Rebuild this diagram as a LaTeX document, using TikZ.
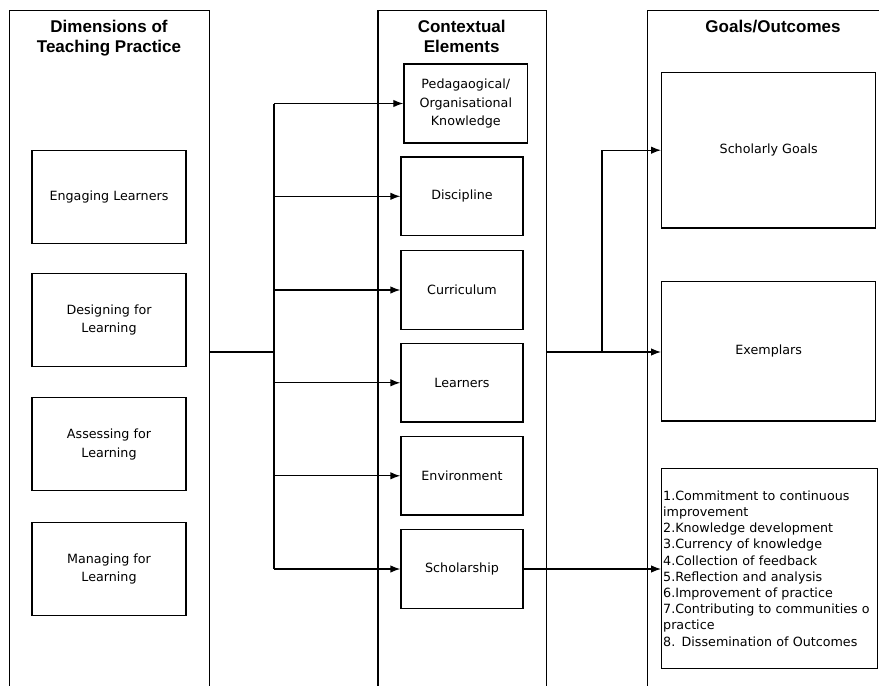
\documentclass[tikz,border=0pt]{standalone}
\usepackage{fontspec}
\setmainfont{DejaVu Sans}
\newfontfamily\headfont{Liberation Sans}
\usetikzlibrary{arrows.meta}

\begin{document}
\begin{tikzpicture}[x=1pt,y=-1pt,line width=1.3pt,
    every node/.style={font=\fontsize{12.7}{18.4}\selectfont},
    column/.style={draw,anchor=north west,inner sep=0pt,minimum width=#1,minimum height=700pt},
    head/.style={anchor=north,inner sep=0pt,align=center,font=\headfont\bfseries\fontsize{17}{19.5}\selectfont},
    box/.style={draw,fill=white,align=center,minimum width=#1},
    tip/.style={-{Latex[length=10pt,width=7.5pt]}}]
    \path[use as bounding box] (0,0) rectangle (879,686);
    \clip (0,0) rectangle (879,686);
    % the three columns
    \node[column=200pt] (dims) at (9,10) {};
    \node[column=168.7pt] (ctx) at (377.3,10) {};
    \node[column=250pt] (outc) at (646.5,10) {};
    \node[head] (dimsHead) at (109,20) {Dimensions of\\Teaching Practice};
    \node[head] (ctxHead) at (461.7,20) {Contextual\\Elements};
    \node[head] (outcHead) at (773,19.5) {Goals/Outcomes};
    % dimensions of teaching practice
    \node[box=154pt,minimum height=93pt] (engage) at (109,197.2) {Engaging Learners};
    \node[box=154pt,minimum height=93pt] (design) at (109,320) {Designing for\\Learning};
    \node[box=154pt,minimum height=93pt] (assess) at (109,444.3) {Assessing for\\Learning};
    \node[box=154pt,minimum height=93pt] (manage) at (109,568.8) {Managing for\\Learning};
    % contextual elements
    \node[box=123.7pt,minimum height=79pt] (peda) at (465.8,103.5) {Pedagaogical/\\Organisational\\Knowledge};
    \node[box=122pt,minimum height=78.5pt] (disc) at (462,196.3) {Discipline};
    \node[box=122pt,minimum height=78.5pt] (curr) at (462,290) {Curriculum};
    \node[box=122pt,minimum height=78.5pt] (lrn) at (462,382.8) {Learners};
    \node[box=122pt,minimum height=78.5pt] (env) at (462,475.8) {Environment};
    \node[box=122pt,minimum height=78.5pt] (schol) at (462,569) {Scholarship};
    % goals and outcomes
    \node[box=214pt,minimum height=155.7pt] (goals) at (768.7,150.2) {Scholarly Goals};
    \node[box=214pt,minimum height=139.7pt] (exem) at (768.7,351.2) {Exemplars};
    \node[box=216pt,minimum height=200.4pt,align=left,text width=213pt,inner xsep=1.5pt,
        font=\fontsize{12.7}{16.2}\selectfont] (list) at (769.7,568.5)
        {1.Commitment to continuous\\improvement\\2.Knowledge development\\3.Currency of knowledge\\4.Collection of feedback\\5.Reflection and analysis\\6.Improvement of practice\\7.Contributing to communities o\\practice\\8. Dissemination of Outcomes};
    % connectors
    \coordinate (merge) at (274,352);
    \coordinate (fork) at (602,352);
    \draw (merge -| dims.east) -- (merge);
    \draw (merge |- peda.west) -- (merge |- schol.west);
    \foreach \n in {peda,disc,curr,lrn,env,schol}
        \draw[tip] (merge |- \n.west) -- (\n.west);
    \draw[tip] (fork -| ctx.east) -- (fork -| exem.west);
    \draw[tip] (fork) |- (goals.west);
    \draw[tip] (schol.east) -- (schol.east -| list.west);
\end{tikzpicture}
\end{document}
